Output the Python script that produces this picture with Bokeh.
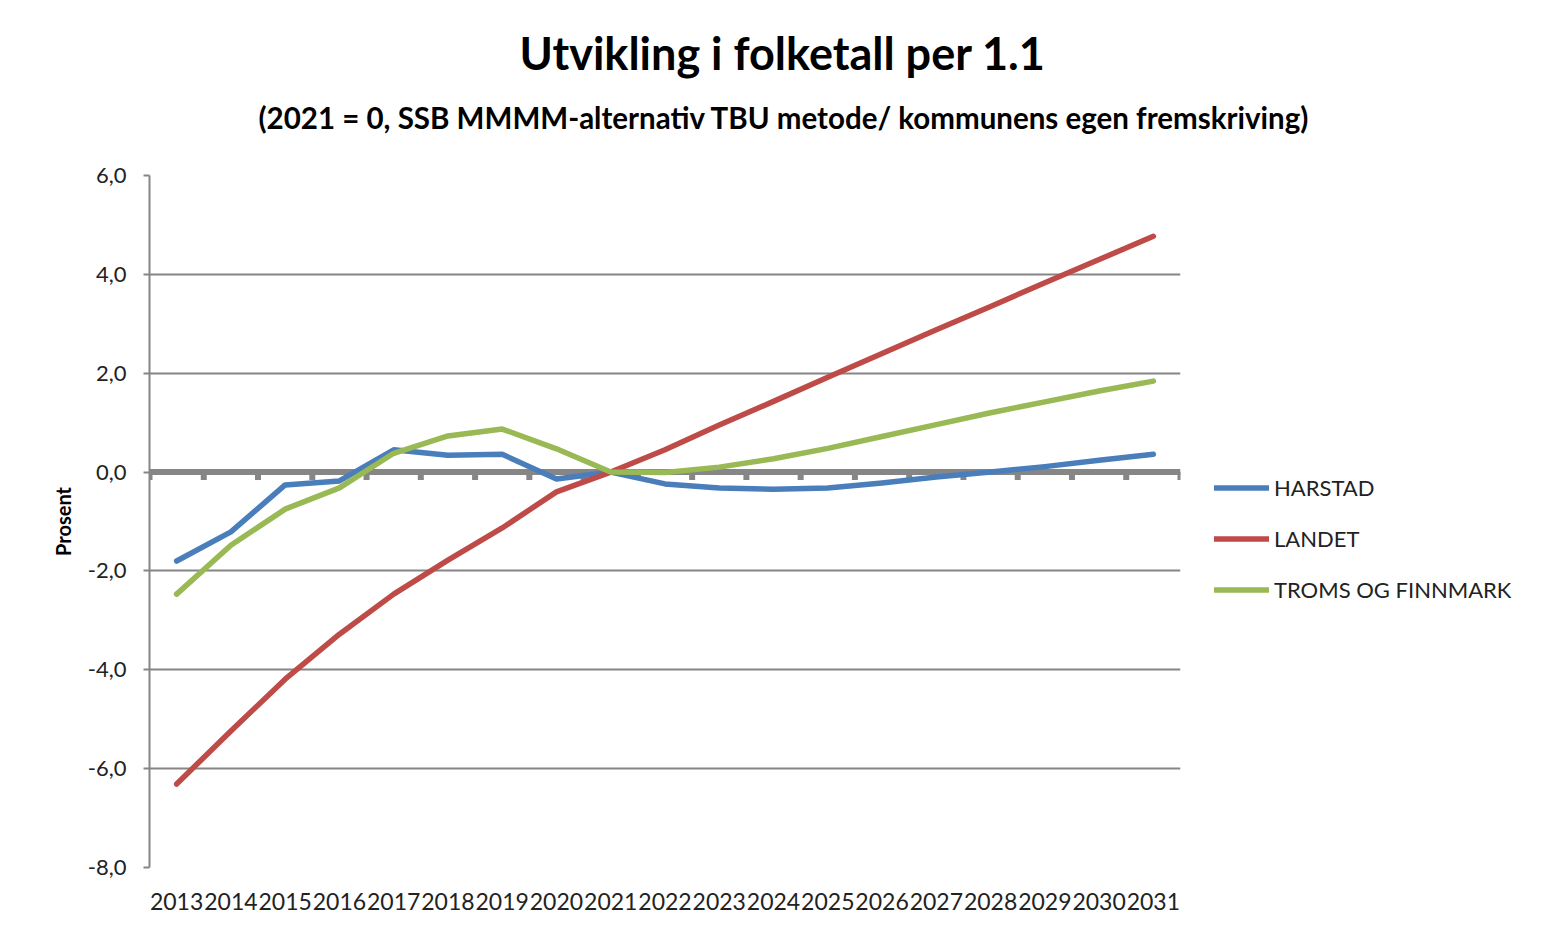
from bokeh.plotting import figure
from bokeh.models import (FactorRange, Range1d, Span, Title, Legend, LegendItem,
                          FixedTicker, CustomJSTickFormatter)
from bokeh.embed import file_html
from bokeh.resources import INLINE

years = [str(y) for y in range(2013, 2032)]
harstad = [-1.80, -1.21, -0.26, -0.18, 0.45, 0.34, 0.36, -0.14, 0.0, -0.24,
           -0.32, -0.35, -0.32, -0.22, -0.10, 0.00, 0.11, 0.24, 0.36]
landet = [-6.31, -5.24, -4.19, -3.28, -2.47, -1.78, -1.13, -0.40, 0.0, 0.45,
          0.95, 1.43, 1.92, 2.40, 2.88, 3.35, 3.83, 4.30, 4.77]
troms = [-2.47, -1.48, -0.75, -0.32, 0.38, 0.73, 0.87, 0.47, 0.0, -0.01,
         0.10, 0.27, 0.48, 0.72, 0.96, 1.20, 1.42, 1.64, 1.84]
series_names = ["HARSTAD", "LANDET", "TROMS OG FINNMARK"]
colors = ["#4A7EBB", "#BE4B48", "#98B954"]
y_ticks = [-8, -6, -4, -2, 0, 2, 4, 6]
title_text = "Utvikling i folketall per 1.1"
subtitle_text = "(2021 = 0, SSB MMMM-alternativ TBU metode/ kommunens  egen fremskriving)"
y_label = "Prosent"

FONT = "Lato"
GRAY = "#868686"

p = figure(frame_width=1031, frame_height=692, output_backend="svg", toolbar_location=None,
           x_range=FactorRange(*years, range_padding=0),
           y_range=Range1d(-8, 6),
           min_border_left=149, min_border_right=0,
           min_border_top=175, min_border_bottom=58)
p.outline_line_color = None
p.background_fill_color = "white"
p.border_fill_color = "white"

# grid
p.xgrid.grid_line_color = None
p.ygrid.grid_line_color = GRAY
p.ygrid.grid_line_width = 2
p.ygrid.ticker = FixedTicker(ticks=y_ticks)

# y axis
p.yaxis.ticker = FixedTicker(ticks=y_ticks)
p.yaxis.formatter = CustomJSTickFormatter(code="return tick.toFixed(1).replace('.', ',');")
p.yaxis.axis_line_color = GRAY
p.yaxis.axis_line_width = 2
p.yaxis.major_tick_line_color = GRAY
p.yaxis.major_tick_line_width = 2
p.yaxis.major_tick_out = 6
p.yaxis.major_tick_in = 0
p.yaxis.minor_tick_line_color = None
p.yaxis.major_label_text_font = FONT
p.yaxis.major_label_text_font_size = "22px"
p.yaxis.major_label_text_color = "#222222"
p.yaxis.major_label_standoff = 17
p.yaxis.axis_label = y_label
p.yaxis.axis_label_text_font = FONT
p.yaxis.axis_label_text_font_style = "bold"
p.yaxis.axis_label_text_font_size = "20px"
p.yaxis.axis_label_text_color = "black"
p.yaxis.axis_label_standoff = 10

# x axis (labels only)
p.xaxis.axis_line_color = None
p.xaxis.major_tick_line_color = None
p.xaxis.minor_tick_line_color = None
p.xaxis.major_label_text_font = FONT
p.xaxis.major_label_text_font_size = "23px"
p.xaxis.major_label_text_color = "#222222"
p.xaxis.major_label_standoff = 19

# zero axis line with category boundary ticks
zero = Span(location=0, dimension="width", line_color=GRAY, line_width=6, level="underlay")
p.add_layout(zero)
bounds = list(range(0, len(years) + 1))
p.segment(x0=bounds, y0=[0] * len(bounds), x1=bounds, y1=[-0.16] * len(bounds),
          line_color=GRAY, line_width=6)

renderers = []
for name, vals, c in zip(series_names, [harstad, landet, troms], colors):
    r = p.line(years, vals, line_color=c, line_width=5.5, line_cap="round", line_join="round")
    renderers.append(r)

legend = Legend(items=[LegendItem(label=n, renderers=[r]) for n, r in zip(series_names, renderers)],
                location="center_left", orientation="vertical")
legend.title = " "
legend.title_text_font_size = "2px"
legend.title_standoff = 33
legend.glyph_width = 55
legend.glyph_height = 25
legend.label_height = 25
legend.spacing = 24
legend.label_standoff = 5
legend.padding = 0
legend.margin = 34
legend.border_line_color = None
legend.background_fill_alpha = 0
legend.label_text_font = FONT
legend.label_text_font_size = "22px"
legend.label_text_color = "#222222"
p.add_layout(legend, "right")

# titles: spacer next to the frame, then subtitle, then main title
p.add_layout(Title(text=" ", text_font_size="1px", standoff=36), "above")
p.add_layout(Title(text=subtitle_text, align="left", offset=109, text_font=FONT,
                   text_font_style="bold", text_font_size="29.5px", text_color="black",
                   standoff=4), "above")
p.add_layout(Title(text=title_text, align="left", offset=370, text_font=FONT,
                   text_font_style="bold", text_font_size="45px", text_color="black",
                   standoff=31), "above")

open("out.html", "w").write(file_html(p, INLINE))
